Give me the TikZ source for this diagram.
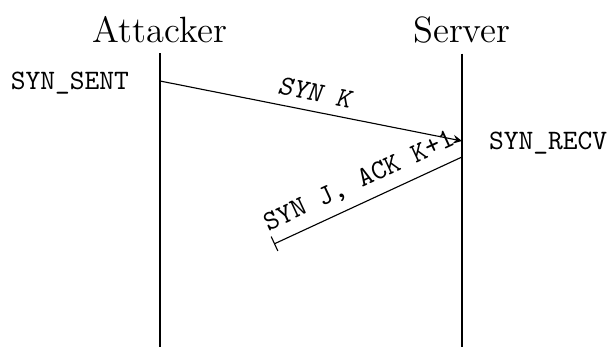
\documentclass[tikz,border=0pt]{standalone}
\usetikzlibrary{arrows}
\begin{document}
\begin{tikzpicture}[
	party/.style={font=\fontsize{13}{15}\selectfont, anchor=base},
	state/.style={font=\ttfamily},
	msg/.style={font=\ttfamily, above, sloped},
	lifeline/.style={thick}]
	\useasboundingbox (0,0) rectangle (7.65,-4.3375);
	\node[party] (attacker) at (2,-0.5375) {Attacker};
	\node[party] (server) at (5.775,-0.5375) {Server};
	\coordinate(AE) at (2,-4.3375);
	\coordinate(SE) at (5.775,-4.3375);
	\draw[lifeline] (attacker.south) -- (AE);
	\draw[lifeline] (server.south) -- (SE);
	\coordinate(A) at (2,-1.0125);
	\coordinate(B) at (5.775,-1.7625);
	\coordinate(C) at (5.775,-1.9625);
	\coordinate(D) at (3.425,-3.05);
	\node[state, anchor=base east] (synsent) at (1.735,-1.116) {SYN\_SENT};
	\node[state, anchor=base west] (synrecv) at (5.99,-1.866) {SYN\_RECV};
	\draw[-stealth] (A) -- node[msg]{\slshape SYN K} (B);
	\draw[-|] (C) -- node[msg]{SYN J, ACK K+1} (D);
\end{tikzpicture}
\end{document}
